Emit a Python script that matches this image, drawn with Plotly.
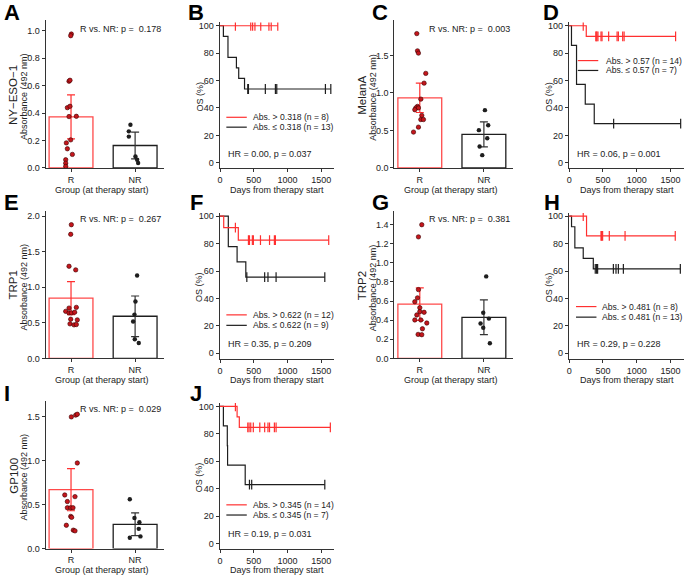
import plotly.graph_objects as go

W, H = 685, 579
FONT = "Liberation Sans, Arial, sans-serif"
RED = "#ff3030"
BARRED = "#ff4a4a"
DOTRED = "#c4161c"
BLACK = "#1e1e1e"
AXC = "#333333"

# ---------------- Bar panel data (absorbance, 492 nm) ----------------
groups = ["R", "NR"]
antigens = ["NY−ESO−1", "MelanA", "TRP1", "TRP2", "GP100"]
p_values = ["0.178", "0.003", "0.267", "0.381", "0.029"]

means_A = [0.373, 0.164]
err_A = [0.160, 0.098]
r_A = [0.977, 0.965, 0.633, 0.640, 0.440, 0.450, 0.375, 0.377, 0.205, 0.183, 0.140, 0.099, 0.060, 0.035, 0.012]
r_A_jit = [0.005, -0.005, -0.031, -0.016, -0.057, -0.016, -0.031, 0.083, -0.005, -0.073, -0.057, 0.021, -0.083, -0.083, -0.083]
nr_A = [0.315, 0.267, 0.229, 0.084, 0.060, 0.036]
nr_A_jit = [-0.073, -0.098, -0.098, 0.005, 0.031, 0.047]

means_C = [0.934, 0.447]
err_C = [0.195, 0.167]
r_C = [1.79, 1.56, 1.53, 1.26, 1.13, 0.917, 0.82, 0.80, 0.80, 0.776, 0.70, 0.645, 0.645, 0.544, 0.478]
r_C_jit = [-0.047, -0.036, -0.021, 0.093, 0.067, 0.016, -0.036, -0.062, -0.021, -0.078, 0.031, 0.016, 0.057, -0.021, -0.098]
nr_C = [0.77, 0.57, 0.504, 0.395, 0.285, 0.171]
nr_C_jit = [0.016, 0.067, -0.078, 0.052, -0.067, -0.026]

means_E = [0.847, 0.593]
err_E = [0.232, 0.285]
r_E = [1.88, 1.745, 1.296, 1.245, 0.708, 0.718, 0.662, 0.64, 0.64, 0.65, 0.551, 0.542, 0.486, 0.472, 0.477]
r_E_jit = [0.005, -0.005, -0.031, 0.073, -0.031, 0.083, -0.083, -0.031, 0.005, 0.057, -0.005, 0.098, -0.016, 0.047, 0.083]
nr_E = [1.167, 0.80, 0.616, 0.519, 0.269, 0.218]
nr_E_jit = [0.031, 0.005, -0.010, -0.031, -0.005, 0.057]

means_G = [0.568, 0.430]
err_G = [0.170, 0.182]
r_G = [1.397, 1.27, 0.719, 0.633, 0.592, 0.53, 0.489, 0.482, 0.454, 0.402, 0.402, 0.37, 0.31, 0.251, 0.248]
r_G_jit = [0.031, -0.021, -0.021, -0.036, -0.078, 0.0, 0.0, 0.067, -0.047, -0.078, 0.016, 0.109, 0.041, -0.026, 0.031]
nr_G = [0.857, 0.478, 0.416, 0.365, 0.32, 0.158]
nr_G_jit = [0.036, -0.010, 0.078, -0.052, -0.010, 0.093]

means_I = [0.671, 0.277]
err_I = [0.240, 0.130]
r_I = [1.50, 1.52, 1.53, 0.975, 0.611, 0.592, 0.536, 0.465, 0.465, 0.465, 0.367, 0.356, 0.266, 0.21, 0.202]
r_I_jit = [0.005, 0.073, 0.098, 0.098, -0.098, 0.062, -0.057, -0.057, -0.005, 0.031, -0.005, 0.010, -0.073, 0.036, 0.062]
nr_I = [0.562, 0.349, 0.30, 0.225, 0.124, 0.139]
nr_I_jit = [-0.083, -0.010, 0.067, 0.057, -0.083, 0.083]

# ---------------- Kaplan-Meier data (days) ----------------
cutoffs = ["0.318", "0.57", "0.622", "0.481", "0.345"]
n_high = [8, 14, 12, 8, 14]
n_low = [13, 7, 9, 13, 7]
hr_text = ["HR = 0.00, p = 0.037", "HR = 0.06, p = 0.001", "HR = 0.35, p = 0.209",
           "HR = 0.29, p = 0.228", "HR = 0.19, p = 0.031"]

B_hi_deaths = []
B_hi_cens = [228, 455, 483, 517, 603, 724, 758, 855]
B_lo_deaths = [50, 118, 118, 243, 277, 363]
B_lo_cens = [411, 421, 671, 820, 840, 1560, 1640]

D_hi_deaths = [253]
D_hi_cens = [208, 396, 399, 411, 426, 471, 486, 584, 709, 728, 792, 813, 1575]
D_lo_deaths = [34, 109, 109, 238, 371]
D_lo_cens = [658, 1650]

F_hi_deaths = [55, 271]
F_hi_cens = [228, 421, 436, 479, 494, 599, 733, 805, 820, 1609]
F_lo_deaths = [123, 123, 253, 382]
F_lo_cens = [397, 661, 710, 830, 1551]

H_hi_deaths = [257]
H_hi_cens = [208, 471, 480, 495, 594, 827, 1570]
H_lo_deaths = [35, 84, 84, 208, 357]
H_lo_cens = [386, 406, 421, 654, 693, 728, 802, 1645]

J_hi_deaths = [253, 286]
J_hi_cens = [228, 411, 430, 455, 493, 589, 661, 710, 733, 805, 830, 1633]
J_lo_deaths = [50, 108, 112, 373]
J_lo_cens = [436, 469, 1551]


def km(deaths, cens):
    ev = sorted([(t, 1) for t in deaths] + [(t, 0) for t in cens])
    n = len(ev)
    S = 100.0
    xs, ys, cx, cy = [0], [100.0], [], []
    times = sorted(set(t for t, _ in ev))
    for t in times:
        d = sum(1 for tt, e in ev if tt == t and e == 1)
        c = sum(1 for tt, e in ev if tt == t and e == 0)
        if d:
            S = S * (1 - d / n)
            xs.append(t)
            ys.append(S)
        if c:
            cx += [t] * c
            cy += [S] * c
        n -= d + c
    last = times[-1]
    if xs[-1] != last:
        xs.append(last)
        ys.append(S)
    return xs, ys, cx, cy


fig = go.Figure()
layout = dict(width=W, height=H, margin=dict(l=0, r=0, t=0, b=0), autosize=False,
              paper_bgcolor="white", plot_bgcolor="rgba(0,0,0,0)", showlegend=False,
              font=dict(family=FONT, size=9, color="#222"))
annotations = []
shapes = []


def fx(px):
    return px / W


def fy(py):
    return 1 - py / H


def ann(text, x, y, size=9, xanchor="left", angle=0, bold=False, color="#222"):
    annotations.append(dict(text=("<b>%s</b>" % text) if bold else text, x=fx(x), y=fy(y),
                            xref="paper", yref="paper", showarrow=False, xanchor=xanchor,
                            yanchor="middle", textangle=angle,
                            font=dict(family=FONT, size=size, color=color)))


def axname(i):
    return ("x" if i == 1 else "x%d" % i), ("y" if i == 1 else "y%d" % i)


ROW = [0, 192.8, 385.3]

# ----- bar panels -----
bar_panels = [
    (1, 0, 43.7, 1.079, 0.2, means_A, err_A, r_A, r_A_jit, nr_A, nr_A_jit, 0),
    (3, 0, 393.5, 1.97, 0.5, means_C, err_C, r_C, r_C_jit, nr_C, nr_C_jit, 1),
    (5, 1, 43.7, 2.079, 0.5, means_E, err_E, r_E, r_E_jit, nr_E, nr_E_jit, 2),
    (7, 1, 393.5, 1.545, 0.2, means_G, err_G, r_G, r_G_jit, nr_G, nr_G_jit, 3),
    (9, 2, 43.7, 1.684, 0.5, means_I, err_I, r_I, r_I_jit, nr_I, nr_I_jit, 4),
]
for (i, row, left, ytop, dtick, means, err, rv, rj, nv, nj, ai) in bar_panels:
    xa, ya = axname(i)
    off = ROW[row]
    top, bot = 18.3 + off, 168.0 + off
    right = left + 118.8
    layout["xaxis" + ("" if i == 1 else str(i))] = dict(
        domain=[fx(left), fx(right)], range=[-0.397, 1.451], anchor=ya,
        tickvals=[0, 1], ticktext=groups, ticks="outside", ticklen=3, tickcolor=AXC,
        showline=True, linecolor=AXC, linewidth=1, showgrid=False, zeroline=False,
        tickfont=dict(size=9, family=FONT, color="#222"))
    layout["yaxis" + ("" if i == 1 else str(i))] = dict(
        domain=[fy(bot), fy(top)], range=[0, ytop], anchor=xa, dtick=dtick, tick0=0,
        tickformat=".1f", ticks="outside", ticklen=3, tickcolor=AXC,
        showline=True, linecolor=AXC, linewidth=1, showgrid=False, zeroline=False,
        tickfont=dict(size=9, family=FONT, color="#222"))
    fig.add_trace(go.Bar(x=[0], y=[means[0]], width=[0.684], xaxis=xa, yaxis=ya,
                         marker=dict(color="white", line=dict(color=BARRED, width=1.3)),
                         error_y=dict(type="data", array=[err[0]], color=RED, thickness=1.2, width=4)))
    fig.add_trace(go.Bar(x=[1], y=[means[1]], width=[0.684], xaxis=xa, yaxis=ya,
                         marker=dict(color="white", line=dict(color=BLACK, width=1.3)),
                         error_y=dict(type="data", array=[err[1]], color="#333", thickness=1.2, width=4)))
    fig.add_trace(go.Scatter(x=[0 + j for j in rj], y=rv, mode="markers", xaxis=xa, yaxis=ya,
                             marker=dict(size=4.4, color=DOTRED, line=dict(color="#3a0000", width=0.6))))
    fig.add_trace(go.Scatter(x=[1 + j for j in nj], y=nv, mode="markers", xaxis=xa, yaxis=ya,
                             marker=dict(size=4.4, color=BLACK, line=dict(width=0))))
    ann("R vs. NR: p =  " + p_values[ai], left + 33, 27 + off)
    ann("Group (at therapy start)", left + 57, 190 + off, xanchor="center")
    ann("Absorbance (492 nm)", left - 21.5, 96 + off, xanchor="center", angle=-90)
    ann(antigens[ai], left - 32.5, 94 + off, size=11.5, xanchor="center", angle=-90)

# ----- KM panels -----
km_panels = [
    (2, 0, 218.3, B_hi_deaths, B_hi_cens, B_lo_deaths, B_lo_cens, 0, (116.7, 126.7), 6.7, 31.7),
    (4, 0, 568.5, D_hi_deaths, D_hi_cens, D_lo_deaths, D_lo_cens, 1, (59.3, 69.3), 9.0, 35.5),
    (6, 1, 218.3, F_hi_deaths, F_hi_cens, F_lo_deaths, F_lo_cens, 2, (123.9, 134.5), 6.7, 31.7),
    (8, 1, 568.5, H_hi_deaths, H_hi_cens, H_lo_deaths, H_lo_cens, 3, (115.5, 126.2), 7.2, 31.5),
    (10, 2, 218.3, J_hi_deaths, J_hi_cens, J_lo_deaths, J_lo_cens, 4, (123.7, 134.0), 6.7, 31.7),
]
for (i, row, left, hd, hc, ld, lc, k, legy, lx, tx) in km_panels:
    xa, ya = axname(i)
    off = ROW[row]
    top, bot = 20.7 + off, 168.3 + off
    right = left + 115
    layout["xaxis%d" % i] = dict(
        domain=[fx(left), fx(right)], range=[-5, 1692], anchor=ya,
        tickvals=[0, 500, 1000, 1500], ticks="outside", ticklen=3, tickcolor=AXC,
        showline=True, linecolor=AXC, linewidth=1, showgrid=False, zeroline=False,
        tickfont=dict(size=9, family=FONT, color="#222"))
    layout["yaxis%d" % i] = dict(
        domain=[fy(bot), fy(top)], range=[-4, 102.4], anchor=xa, dtick=20, tick0=0,
        ticks="outside", ticklen=3, tickcolor=AXC,
        showline=True, linecolor=AXC, linewidth=1, showgrid=False, zeroline=False,
        tickfont=dict(size=9, family=FONT, color="#222"))
    for deaths, cens, col in ((ld, lc, BLACK), (hd, hc, RED)):
        xs, ys, cx, cy = km(deaths, cens)
        fig.add_trace(go.Scatter(x=xs, y=ys, mode="lines", xaxis=xa, yaxis=ya,
                                 line=dict(shape="hv", color=col, width=1.2)))
        if cx:
            fig.add_trace(go.Scatter(x=cx, y=cy, mode="markers", xaxis=xa, yaxis=ya,
                                     marker=dict(symbol="line-ns-open", size=7, color=col,
                                                 line=dict(color=col, width=1.2))))
    for yy, col, lab in ((legy[0], RED, "Abs. > %s (n = %d)" % (cutoffs[k], n_high[k])),
                         (legy[1], BLACK, "Abs. ≤ %s (n = %d)" % (cutoffs[k], n_low[k]))):
        shapes.append(dict(type="line", xref="paper", yref="paper",
                           x0=fx(left + lx), x1=fx(left + lx + 20.5), y0=fy(yy + off), y1=fy(yy + off),
                           line=dict(color=col, width=1.2)))
        ann(lab, left + tx, yy + off, size=8.6)
    ann(hr_text[k], left + 6, 153.5 + off)
    ann("OS (%)", left - 20, 96 + off, xanchor="center", angle=-90)
    ann("Days from therapy start", left + 58, 190 + off, xanchor="center")

letters = [("A", 0, 10.5), ("B", 185, 10.5), ("C", 369, 10.5), ("D", 541, 10.5),
           ("E", 0, 203.3), ("F", 187, 203.3), ("G", 369, 203.3), ("H", 542, 203.3),
           ("I", 0, 395.8), ("J", 187, 395.8)]
for lt, x, y in letters:
    ann(lt, x, y, size=22, bold=True, color="#000")

layout["annotations"] = annotations
layout["shapes"] = shapes
fig.update_layout(**layout)
fig.write_html("out.html", config={"displayModeBar": False},
               post_script="document.body.style.margin='0px';document.body.style.overflow='hidden';")
